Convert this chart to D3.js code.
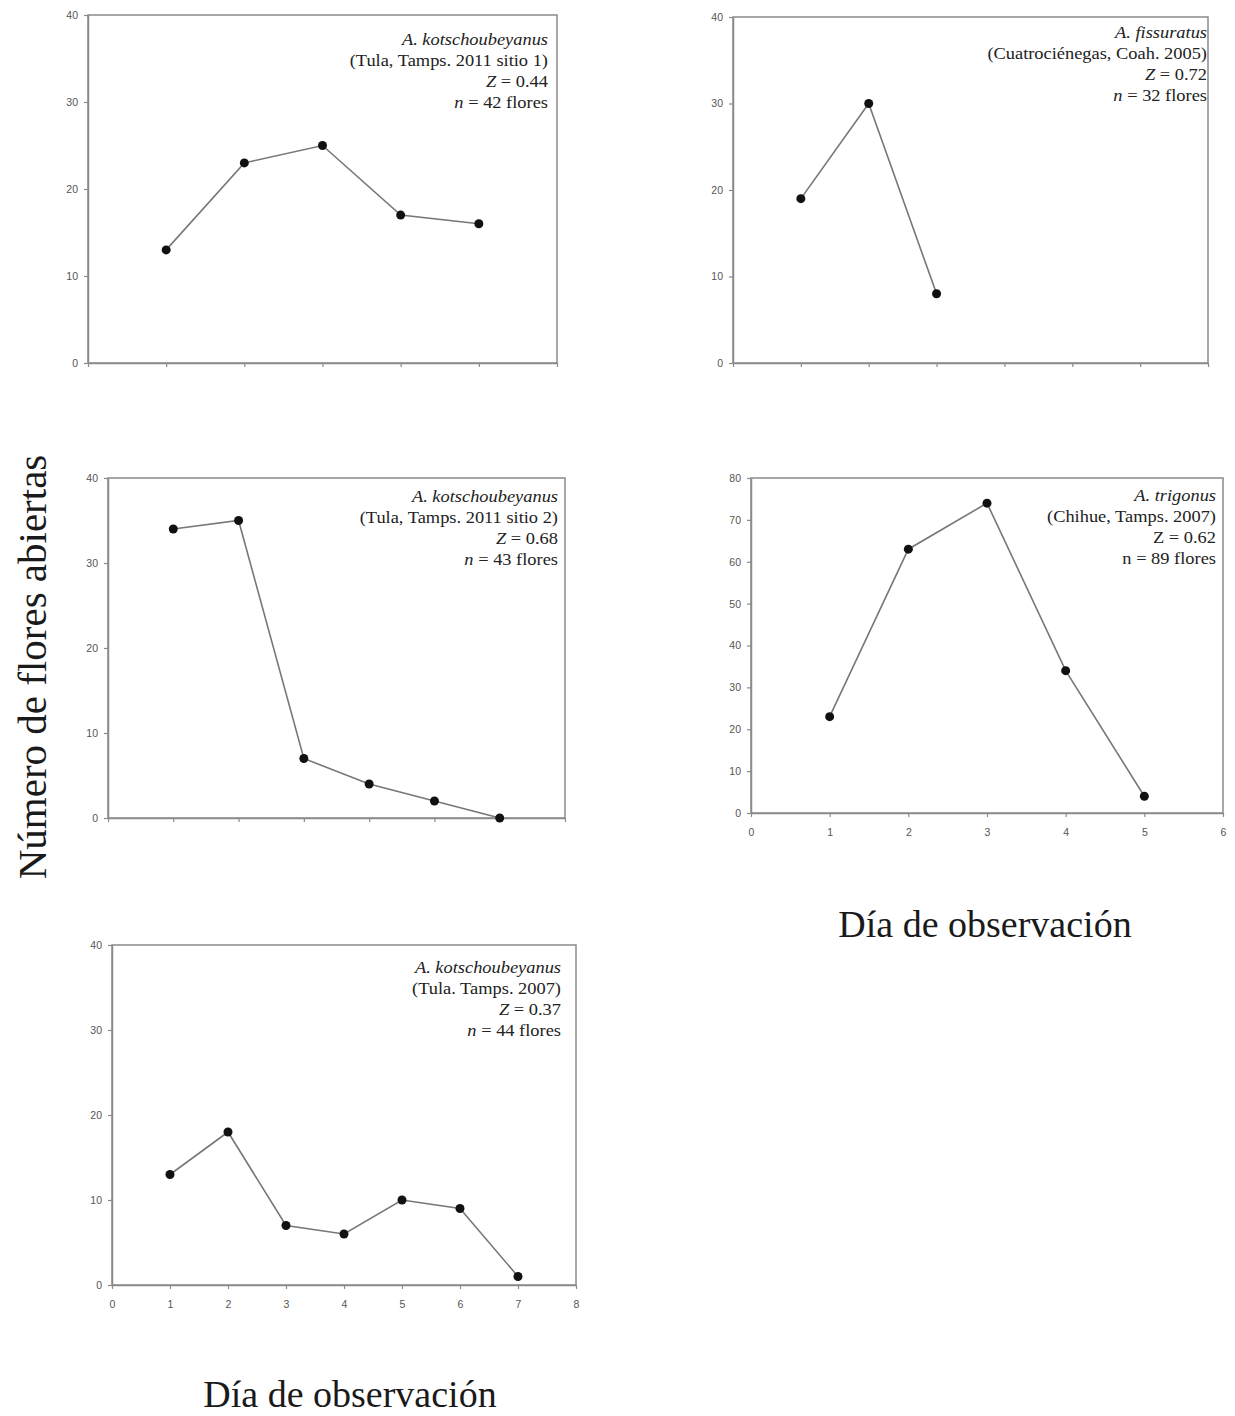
<!DOCTYPE html>
<html>
<head>
<meta charset="utf-8">
<script src="https://cdn.jsdelivr.net/npm/d3@7"></script>
<style>
  body { margin: 0; background: #fff; }
  svg { display: block; }
</style>
</head>
<body>
<script>
// days of observation and number of open flowers, per population
const tula2011s1Days = [1, 2, 3, 4, 5];
const tula2011s1Flowers = [13, 23, 25, 17, 16];

const cuatroDays = [1, 2, 3];
const cuatroFlowers = [19, 30, 8];

const tula2011s2Days = [1, 2, 3, 4, 5, 6];
const tula2011s2Flowers = [34, 35, 7, 4, 2, 0];

const chihueDays = [1, 2, 3, 4, 5];
const chihueFlowers = [23, 63, 74, 34, 4];

const tula2007Days = [1, 2, 3, 4, 5, 6, 7];
const tula2007Flowers = [13, 18, 7, 6, 10, 9, 1];

const yTicks40 = [0, 10, 20, 30, 40];
const yTicks80 = [0, 10, 20, 30, 40, 50, 60, 70, 80];

const yTitle = 'Número de flores abiertas';
const xTitle = 'Día de observación';

// annotation lines: [text, italic]
const note1 = [[['A. kotschoubeyanus', true]], [['(Tula, Tamps. 2011 sitio 1)', false]], [['Z', true], [' = 0.44', false]], [['n', true], [' = 42 flores', false]]];
const note2 = [[['A. fissuratus', true]], [['(Cuatrociénegas, Coah. 2005)', false]], [['Z', true], [' = 0.72', false]], [['n', true], [' = 32 flores', false]]];
const note3 = [[['A. kotschoubeyanus', true]], [['(Tula, Tamps. 2011 sitio 2)', false]], [['Z', true], [' = 0.68', false]], [['n', true], [' = 43 flores', false]]];
const note4 = [[['A. trigonus', true]], [['(Chihue, Tamps. 2007)', false]], [['Z = 0.62', false]], [['n = 89 flores', false]]];
const note5 = [[['A. kotschoubeyanus', true]], [['(Tula. Tamps. 2007)', false]], [['Z', true], [' = 0.37', false]], [['n', true], [' = 44 flores', false]]];

const panels = [
  { days: tula2011s1Days, vals: tula2011s1Flowers, xMax: 6, yMax: 40, yTicks: yTicks40, xLabels: false,
    box: [88, 557, 15, 363], note: note1, noteX: 548, noteY: 45 },
  { days: cuatroDays, vals: cuatroFlowers, xMax: 7, yMax: 40, yTicks: yTicks40, xLabels: false,
    box: [733, 1208, 17, 363], note: note2, noteX: 1207, noteY: 38 },
  { days: tula2011s2Days, vals: tula2011s2Flowers, xMax: 7, yMax: 40, yTicks: yTicks40, xLabels: false,
    box: [108, 565, 478, 818], note: note3, noteX: 558, noteY: 502 },
  { days: chihueDays, vals: chihueFlowers, xMax: 6, yMax: 80, yTicks: yTicks80, xLabels: true,
    box: [751, 1223, 478, 813], note: note4, noteX: 1216, noteY: 501 },
  { days: tula2007Days, vals: tula2007Flowers, xMax: 8, yMax: 40, yTicks: yTicks40, xLabels: true,
    box: [112, 576, 945, 1285], note: note5, noteX: 561, noteY: 973 }
];

const axisColor = '#8a8a8a';

const svg = d3.select('body')
  .append('svg')
  .attr('width', 1235)
  .attr('height', 1416);

function drawPanel(p) {
  const [x0, x1, y0, y1] = p.box;
  const x = d3.scaleLinear().domain([0, p.xMax]).range([x0, x1]);
  const y = d3.scaleLinear().domain([0, p.yMax]).range([y1, y0]);
  const g = svg.append('g');

  // frame
  g.append('rect')
    .attr('x', x0).attr('y', y0)
    .attr('width', x1 - x0).attr('height', y1 - y0)
    .attr('fill', 'none')
    .attr('stroke', axisColor)
    .attr('stroke-width', 1.5);

  const yAxis = g.append('g')
    .attr('transform', `translate(${x0},0)`)
    .call(d3.axisLeft(y).tickValues(p.yTicks).tickSize(4).tickSizeOuter(0).tickPadding(6));

  const xAxis = g.append('g')
    .attr('transform', `translate(0,${y1})`)
    .call(d3.axisBottom(x).ticks(p.xMax).tickSize(4).tickSizeOuter(0).tickPadding(12)
      .tickFormat(p.xLabels ? d3.format('d') : () => ''));

  [yAxis, xAxis].forEach(a => {
    a.select('.domain').attr('stroke', axisColor).attr('stroke-width', 1.5);
    a.selectAll('.tick line').attr('stroke', axisColor).attr('stroke-width', 1.2);
    a.selectAll('.tick text')
      .attr('fill', '#555')
      .attr('font-family', 'Liberation Sans, Arial, sans-serif')
      .attr('font-size', 10.5);
  });

  const pts = p.days.map((d, i) => ({ day: d, val: p.vals[i] }));

  g.append('path')
    .datum(pts)
    .attr('fill', 'none')
    .attr('stroke', '#777')
    .attr('stroke-width', 1.6)
    .attr('d', d3.line().x(d => x(d.day)).y(d => y(d.val)));

  g.selectAll('circle')
    .data(pts)
    .join('circle')
      .attr('cx', d => x(d.day))
      .attr('cy', d => y(d.val))
      .attr('r', 4.5)
      .attr('fill', '#111');

  // annotation
  p.note.forEach((line, i) => {
    const t = g.append('text')
      .attr('transform', `translate(${p.noteX},${p.noteY + i * 21}) scale(1.15,1)`)
      .attr('text-anchor', 'end')
      .attr('font-family', 'Liberation Serif, Times New Roman, serif')
      .attr('font-size', 16)
      .attr('fill', '#222');
    line.forEach(([s, it]) => {
      t.append('tspan')
        .attr('font-style', it ? 'italic' : 'normal')
        .text(s);
    });
  });
}

panels.forEach(drawPanel);

// shared axis titles
svg.append('text')
  .attr('transform', 'translate(46,667) rotate(-90)')
  .attr('text-anchor', 'middle')
  .attr('font-family', 'Liberation Serif, Times New Roman, serif')
  .attr('font-size', 41)
  .attr('fill', '#1a1a1a')
  .text(yTitle);

svg.append('text')
  .attr('x', 985).attr('y', 937)
  .attr('text-anchor', 'middle')
  .attr('font-family', 'Liberation Serif, Times New Roman, serif')
  .attr('font-size', 38)
  .attr('fill', '#1a1a1a')
  .text(xTitle);

svg.append('text')
  .attr('x', 350).attr('y', 1407)
  .attr('text-anchor', 'middle')
  .attr('font-family', 'Liberation Serif, Times New Roman, serif')
  .attr('font-size', 38)
  .attr('fill', '#1a1a1a')
  .text(xTitle);
</script>
</body>
</html>
